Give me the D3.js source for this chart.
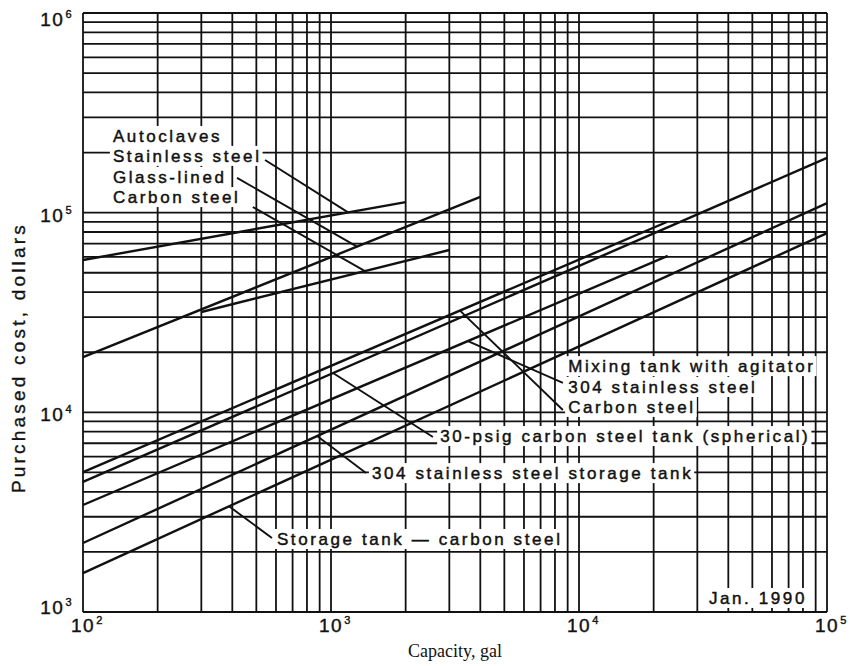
<!DOCTYPE html>
<html>
<head>
<meta charset="utf-8">
<script src="https://cdn.jsdelivr.net/npm/d3@7"></script>
<style>
  body { margin: 0; background: #fff; }
  svg { display: block; }
</style>
</head>
<body>
<svg id="chart" width="853" height="666"></svg>
<script>
// ---------------- DATA ----------------
const xDecades = [2, 3, 4, 5];          // capacity 10^2 .. 10^5 gal
const yDecades = [3, 4, 5, 6];          // cost 10^3 .. 10^6 dollars
const gridMultipliers = [1, 2, 3, 4, 5, 6, 7, 8, 9];

const seriesNames = [
  "Autoclave, stainless steel",
  "Autoclave, glass-lined",
  "Autoclave, carbon steel",
  "30-psig carbon steel tank (spherical)",
  "Mixing tank with agitator, carbon steel",
  "Mixing tank with agitator, 304 stainless steel",
  "304 stainless steel storage tank",
  "Storage tank, carbon steel"
];
const capacityFrom = [100, 100, 300, 100, 100, 100, 100, 100];
const capacityTo   = [2000, 4000, 3000, 100000, 22600, 22800, 100000, 100000];
const costFrom     = [57900, 18900, 31800, 4480, 5020, 3435, 2216, 1567];
const costTo       = [113000, 120000, 65000, 188000, 89800, 60700, 111700, 79000];

// annotation texts and their anchor (start of baseline) in data units
const labelTexts = [
  "Autoclaves", "Stainless steel", "Glass-lined", "Carbon steel",
  "Mixing tank with agitator", "304 stainless steel", "Carbon steel",
  "30-psig carbon steel tank (spherical)",
  "304 stainless steel storage tank",
  "Storage tank \u2014 carbon steel",
  "Jan. 1990"
];
const labelCapacity = [132, 132, 132, 132, 9040, 9040, 9040, 2755, 1462, 605, 33400];
const labelCost     = [226000, 179600, 140900, 111700, 15900, 12500, 9930, 7100, 4630, 2166, 1097];

// leader lines: from a point near the label to a capacity on a series
const leaderSeries       = [0, 1, 2, 3, 4, 5, 6, 7];
const leaderFromCapacity = [542, 418, 484, 2577, 8610, 8610, 1384, 578];
const leaderFromCost     = [183600, 149300, 106700, 7520, 10270, 14030, 4965, 2350];
const leaderToCapacity   = [1172, 1273, 1371, 1019, 3313, 3566, 879, 388];

const xTitle = "Capacity, gal";
const yTitle = "Purchased cost, dollars";

// ---------------- LAYOUT ----------------
const W = 853, H = 666;
const margin = { left: 83, right: 26, top: 13, bottom: 54 };
const x = d3.scaleLog().domain([10 ** xDecades[0], 10 ** xDecades[xDecades.length - 1]])
  .range([margin.left, W - margin.right]);
const y = d3.scaleLog().domain([10 ** yDecades[0], 10 ** yDecades[yDecades.length - 1]])
  .range([H - margin.bottom, margin.top]);

const svg = d3.select("#chart");
const ink = "#111";

function gridValues(decades) {
  const vals = [];
  for (let i = 0; i < decades.length - 1; i++)
    gridMultipliers.forEach(m => vals.push(m * 10 ** decades[i]));
  vals.push(10 ** decades[decades.length - 1]);
  return vals;
}

// grid (log-log paper)
const gGrid = svg.append("g");
gGrid.selectAll("line.v").data(gridValues(xDecades)).join("line")
  .attr("x1", d => x(d)).attr("x2", d => x(d))
  .attr("y1", y.range()[0]).attr("y2", y.range()[1])
  .attr("stroke", ink).attr("stroke-width", 1.8);
gGrid.selectAll("line.h").data(gridValues(yDecades)).join("line")
  .attr("y1", d => y(d)).attr("y2", d => y(d))
  .attr("x1", x.range()[0]).attr("x2", x.range()[1])
  .attr("stroke", ink).attr("stroke-width", 1.8);

const gBoxes = svg.append("g");
const gLines = svg.append("g");
const gText = svg.append("g");

// series lines
function costAt(i, c) {
  const t = (Math.log10(c) - Math.log10(capacityFrom[i])) /
            (Math.log10(capacityTo[i]) - Math.log10(capacityFrom[i]));
  return 10 ** (Math.log10(costFrom[i]) + t * (Math.log10(costTo[i]) - Math.log10(costFrom[i])));
}
const line = d3.line().x(d => x(d[0])).y(d => y(d[1]));
gLines.selectAll("path.series").data(seriesNames).join("path")
  .attr("class", "series")
  .attr("d", (d, i) => line([[capacityFrom[i], costFrom[i]], [capacityTo[i], costTo[i]]]))
  .attr("fill", "none").attr("stroke", ink).attr("stroke-width", 2.4);

// leaders
gLines.selectAll("line.leader").data(leaderSeries).join("line")
  .attr("x1", (s, k) => x(leaderFromCapacity[k])).attr("y1", (s, k) => y(leaderFromCost[k]))
  .attr("x2", (s, k) => x(leaderToCapacity[k])).attr("y2", (s, k) => y(costAt(s, leaderToCapacity[k])))
  .attr("stroke", ink).attr("stroke-width", 1.9);

// annotation labels
const labelFont = "'Liberation Sans', Arial, Helvetica, sans-serif";
gText.selectAll("text.lab").data(labelTexts).join("text")
  .attr("x", (d, i) => x(labelCapacity[i])).attr("y", (d, i) => y(labelCost[i]))
  .attr("font-family", labelFont).attr("font-size", 17)
  .attr("letter-spacing", "2.6px").attr("fill", ink)
  .attr("stroke", ink).attr("stroke-width", 0.45)
  .text(d => d)
  .each(function () {
    const b = this.getBBox();
    gBoxes.append("rect")
      .attr("x", b.x - 3).attr("y", b.y - 1)
      .attr("width", b.width + 4).attr("height", b.height + 1)
      .attr("fill", "#fff");
  });

// tick labels
const tickFont = "'Liberation Sans', Arial, Helvetica, sans-serif";
function powLabel(sel, exp) {
  sel.append("tspan").text("10");
  sel.append("tspan").attr("font-size", 11).attr("dy", -8).attr("dx", 1).text(exp);
}
xDecades.forEach(e => {
  const t = svg.append("text")
    .attr("x", x(10 ** e) - 12).attr("y", H - margin.bottom + 20)
    .attr("font-family", tickFont).attr("font-size", 19).attr("letter-spacing", "1.5px")
    .attr("fill", ink).attr("stroke", ink).attr("stroke-width", 0.4);
  powLabel(t, e);
});
yDecades.forEach(e => {
  const yy = Math.min(Math.max(y(10 ** e) + 9, margin.top + 13), H - margin.bottom + 2);
  const t = svg.append("text")
    .attr("x", margin.left - 10).attr("y", yy)
    .attr("text-anchor", "end")
    .attr("font-family", tickFont).attr("font-size", 19).attr("letter-spacing", "1.5px")
    .attr("fill", ink).attr("stroke", ink).attr("stroke-width", 0.4);
  powLabel(t, e);
});

// axis titles
svg.append("text")
  .attr("x", (x.range()[0] + x.range()[1]) / 2).attr("y", H - 9)
  .attr("text-anchor", "middle")
  .attr("font-family", "'Liberation Serif', 'Times New Roman', serif")
  .attr("font-size", 18).attr("fill", ink)
  .text(xTitle);
svg.append("text")
  .attr("transform", `translate(25, ${(y.range()[0] + y.range()[1]) / 2 + 45}) rotate(-90)`)
  .attr("text-anchor", "middle")
  .attr("font-family", labelFont).attr("font-size", 19)
  .attr("letter-spacing", "3.2px").attr("fill", ink)
  .attr("stroke", ink).attr("stroke-width", 0.35)
  .text(yTitle);
</script>
</body>
</html>
